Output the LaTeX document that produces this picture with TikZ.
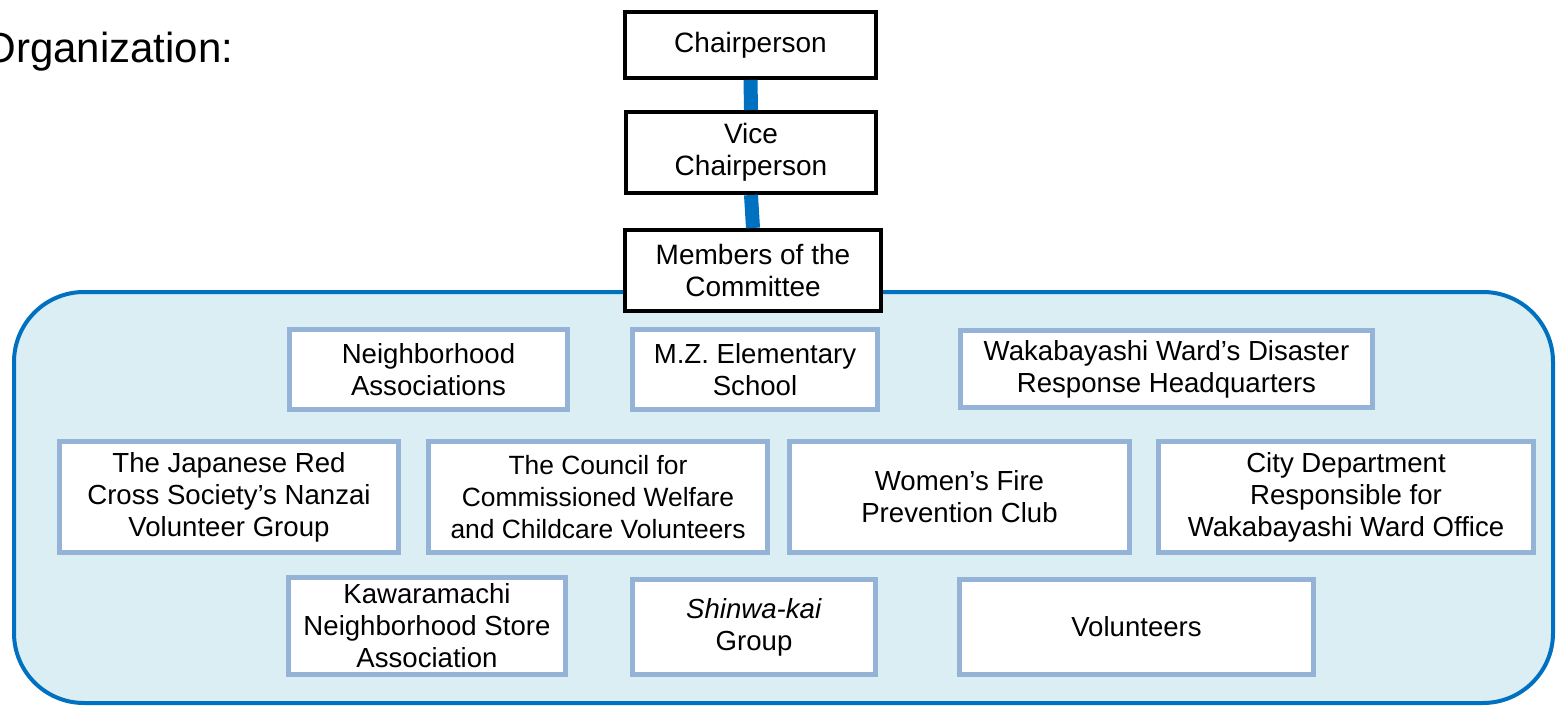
\documentclass[tikz,border=0pt]{standalone}
\usepackage{fontspec}
\setmainfont{Liberation Sans}
\definecolor{linkblue}{HTML}{0070C0}
\definecolor{panelfill}{HTML}{DAEEF3}
\definecolor{memberborder}{HTML}{95B3D7}
\begin{document}
\begin{tikzpicture}[x=0.5pt,y=-0.5pt,
  topbox/.style={draw=black, line width=2pt, fill=white, inner sep=0pt, align=center, font=\fontsize{14}{16}\selectfont},
  member/.style={draw=memberborder, line width=2.5pt, fill=white, inner sep=0pt, align=center, font=\fontsize{13.8}{16}\selectfont},
  link/.style={draw=linkblue, line width=7pt},
  panel/.style={draw=linkblue, fill=panelfill, line width=2pt, rounded corners=35pt}]
\useasboundingbox (0,0) rectangle (1557,706);
\node[anchor=base west, inner sep=0pt, font=\fontsize{21}{25}\selectfont] (title) at (-17,63) {Organization:};
\draw[panel] (14,292) rectangle (1553,703);
\node[topbox, minimum width=125.5pt, minimum height=33pt] (chair) at (750.5,45) {Chairperson};
\node[topbox, minimum width=125pt, minimum height=40.5pt] (vice) at (751,152.5) {Vice\\Chairperson};
\node[topbox, minimum width=128pt, minimum height=40.5pt] (members) at (753,270.5) {Members of the\\Committee};
\draw[link] (chair.south) -- (vice.north);
\draw[link] (vice.south) -- (members.north);
\node[member, minimum width=139pt, minimum height=40pt] (neigh) at (428.5,369.5) {Neighborhood\\Associations};
\node[member, minimum width=122.5pt, minimum height=40pt] (school) at (755,369.5) {M.Z. Elementary\\School};
\node[member, minimum width=206pt, minimum height=38.5pt] (hq) at (1166.5,369) {Wakabayashi Ward’s Disaster\\Response Headquarters};
\node[member, minimum width=169.5pt, minimum height=55.5pt] (redcross) at (229,497) {The Japanese Red\\Cross Society’s Nanzai\\Volunteer Group};
\node[member, minimum width=169.5pt, minimum height=55.5pt, font=\fontsize{13.2}{15.8}\selectfont] (council) at (598,497) {The Council for\\Commissioned Welfare\\and Childcare Volunteers};
\node[member, minimum width=170pt, minimum height=55.5pt] (fire) at (959.5,497) {Women’s Fire\\Prevention Club};
\node[member, minimum width=187.5pt, minimum height=55.5pt] (city) at (1346,497) {City Department\\Responsible for\\Wakabayashi Ward Office};
\node[member, minimum width=138.5pt, minimum height=48.5pt] (store) at (427,626) {Kawaramachi\\Neighborhood Store\\Association};
\node[member, minimum width=121.5pt, minimum height=47.5pt] (shinwa) at (754,627) {\textit{Shinwa-kai}\\Group};
\node[member, minimum width=177pt, minimum height=47.5pt] (vol) at (1136.5,627) {Volunteers};
\end{tikzpicture}
\end{document}
